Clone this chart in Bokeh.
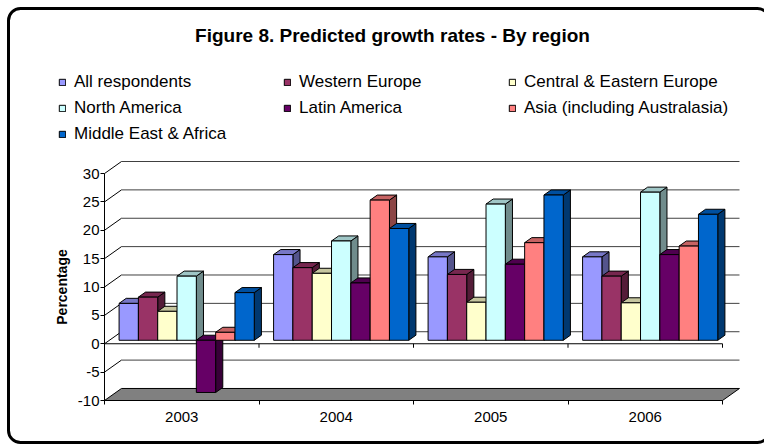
from bokeh.plotting import figure
from bokeh.models import Range1d, FixedTicker, Legend, LegendItem, Label, BoxAnnotation
from bokeh.embed import file_html
from bokeh.resources import INLINE

# ---- data -------------------------------------------------------------
years = ["2003", "2004", "2005", "2006"]
regions = ["All respondents", "Western Europe", "Central & Eastern Europe",
           "North America", "Latin America", "Asia (including Australasia)",
           "Middle East & Africa"]
colors = ["#9999FF", "#993366", "#FFFFCC", "#CCFFFF", "#660066", "#FF8080", "#0066CC"]

all_respondents = [6.5, 15.1, 14.7, 14.7]
western_europe = [7.6, 12.8, 11.6, 11.3]
central_eastern_europe = [5.1, 11.8, 6.7, 6.6]
north_america = [11.3, 17.5, 24.0, 26.1]
latin_america = [-9.2, 10.1, 13.4, 15.1]
asia = [1.4, 24.7, 17.2, 16.6]
middle_east_africa = [8.4, 19.7, 25.6, 22.2]
series = [all_respondents, western_europe, central_eastern_europe, north_america,
          latin_america, asia, middle_east_africa]

y_ticks = [-10, -5, 0, 5, 10, 15, 20, 25, 30]

# ---- canvas and scales ------------------------------------------------
W, H = 764, 445
PX_X = 154.5            # pixels per year group
PX_Y = 5.674            # pixels per percentage point
ORIGIN_X = 104          # canvas x of the front value axis
FLOOR_Y = 400           # canvas y (from top) of the -10 floor edge

# ---- 3-D look: depth of the box and of the bars ------------------------
Y_MIN, Y_MAX = -10, 30
DX, DY = 0.110, 2.12          # wall depth (x in year units, y in value units)
BAR_W = 0.125                 # bar width, in year units
GROUP_PAD = (1 - BAR_W * len(regions)) / 2
F0, F1 = 0.29, 0.71           # front/back depth fraction of the bars
FONT = "Liberation Sans"


def shade(hex_color, k):
    h = hex_color.lstrip("#")
    r, g, b = (int(h[i:i + 2], 16) for i in (0, 2, 4))
    return "#%02x%02x%02x" % (int(r * k), int(g * k), int(b * k))


x_range = Range1d(-ORIGIN_X / PX_X, (W - ORIGIN_X) / PX_X)
y_range = Range1d(Y_MIN - (H - FLOOR_Y) / PX_Y, Y_MIN + FLOOR_Y / PX_Y)

p = figure(width=W, height=H, output_backend="svg", toolbar_location=None,
           x_range=x_range, y_range=y_range,
           min_border_left=0, min_border_right=0, min_border_top=0,
           min_border_bottom=0)
p.grid.visible = False
p.outline_line_color = None
p.background_fill_color = "white"
p.border_fill_color = "white"

# ---- walls: gridlines on the back wall and the left side ---------------
n = len(years)
grid_v = [v for v in y_ticks if v != Y_MIN]
p.segment(x0=[DX] * len(grid_v), y0=[v + DY for v in grid_v],
          x1=[n + DX] * len(grid_v), y1=[v + DY for v in grid_v],
          line_color="black", line_width=1, line_alpha=0.75)
p.segment(x0=[0] * len(grid_v), y0=grid_v, x1=[DX] * len(grid_v),
          y1=[v + DY for v in grid_v], line_color="black", line_width=1)

# floor
p.patch(x=[0, n, n + DX, DX], y=[Y_MIN, Y_MIN, Y_MIN + DY, Y_MIN + DY],
        fill_color="#808080", line_color="black", line_width=1)

# front edge of the zero plane, with ticks between the years
tick_len = 4 / PX_Y
p.segment(x0=[0], y0=[0], x1=[n], y1=[0], line_color="black", line_width=1)
p.segment(x0=list(range(1, n + 1)), y0=[0] * n, x1=list(range(1, n + 1)),
          y1=[-tick_len] * n, line_color="black", line_width=1)

# ---- bars ---------------------------------------------------------------
front_renderers = []
ddx, ddy = (F1 - F0) * DX, (F1 - F0) * DY
for s, (vals, col) in enumerate(zip(series, colors)):
    left, right, bottom, top = [], [], [], []
    top_xs, top_ys, side_xs, side_ys = [], [], [], []
    for c, v in enumerate(vals):
        x0 = c + GROUP_PAD + s * BAR_W + F0 * DX
        x1 = x0 + BAR_W
        y0 = min(0, v) + F0 * DY
        y1 = max(0, v) + F0 * DY
        left.append(x0); right.append(x1); bottom.append(y0); top.append(y1)
        top_xs.append([x0, x1, x1 + ddx, x0 + ddx])
        top_ys.append([y1, y1, y1 + ddy, y1 + ddy])
        side_xs.append([x1, x1 + ddx, x1 + ddx, x1])
        side_ys.append([y0, y0 + ddy, y1 + ddy, y1])
    p.patches(xs=side_xs, ys=side_ys, fill_color=shade(col, 0.55),
              line_color="black", line_width=1)
    p.patches(xs=top_xs, ys=top_ys, fill_color=shade(col, 0.78),
              line_color="black", line_width=1)
    r = p.quad(left=left, right=right, bottom=bottom, top=top,
               fill_color=col, line_color="black", line_width=1)
    front_renderers.append(r)

# ---- axes, pinned to the front edges of the box -------------------------
yax = p.yaxis[0]
yax.fixed_location = 0
yax.ticker = FixedTicker(ticks=y_ticks)
yax.major_label_overrides = {v: str(v) for v in y_ticks}   # plain hyphen minus
yax.bounds = (Y_MIN, Y_MAX)
yax.major_tick_in = 0
yax.major_tick_out = 4
yax.minor_tick_out = 0
yax.axis_line_color = "black"
yax.major_label_standoff = 1
yax.major_label_text_font = FONT
yax.major_label_text_font_size = "15px"
yax.major_label_text_color = "black"
yax.axis_label = "Percentage"
yax.axis_label_text_font = FONT
yax.axis_label_text_font_style = "bold"
yax.axis_label_text_font_size = "14px"
yax.axis_label_text_color = "black"
yax.axis_label_standoff = 5

xax = p.xaxis[0]
xax.fixed_location = Y_MIN
centers = [i + 0.5 for i in range(n)]
xax.ticker = FixedTicker(ticks=centers, minor_ticks=list(range(n + 1)))
xax.major_label_overrides = {c: y for c, y in zip(centers, years)}
xax.bounds = (0, n)
xax.major_tick_in = 0
xax.major_tick_out = 0
xax.minor_tick_in = 0
xax.minor_tick_out = 4
xax.axis_line_color = "black"
xax.major_label_standoff = 7
xax.major_label_text_font = FONT
xax.major_label_text_font_size = "15px"
xax.major_label_text_color = "black"

# ---- legend, title, outer border (screen units from bottom-left) --------
legend = Legend(items=[LegendItem(label=name, renderers=[r])
                       for name, r in zip(regions, front_renderers)],
                location=(58, H - 71.5 - 72), orientation="horizontal", ncols=3,
                padding=0, spacing=6, margin=0,
                glyph_width=8, glyph_height=8, label_standoff=8,
                label_width=203, label_height=20,
                label_text_font=FONT, label_text_font_size="17px",
                label_text_color="black",
                background_fill_alpha=0, border_line_color=None)
p.add_layout(legend, "center")

title = Label(x=392, y=H - 35, x_units="screen", y_units="screen",
              text="Figure 8. Predicted growth rates - By region",
              text_align="center", text_baseline="middle",
              text_font=FONT, text_font_style="bold", text_font_size="19px",
              text_color="black")
p.add_layout(title)

border = BoxAnnotation(left=8, right=769, top=H - 8, bottom=H - 442,
                       left_units="screen", right_units="screen",
                       top_units="screen", bottom_units="screen",
                       fill_color=None, line_color="black", line_alpha=1.0,
                       line_width=3, border_radius=12)
p.add_layout(border)

open("out.html", "w").write(file_html(p, INLINE))
